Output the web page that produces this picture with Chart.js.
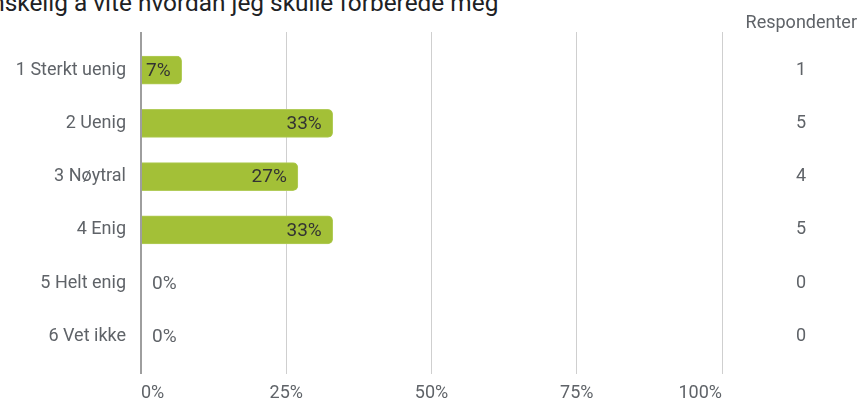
<!DOCTYPE html>
<html lang="no">
<head>
<meta charset="utf-8">
<title>Vanskelig å vite hvordan jeg skulle forberede meg</title>
<script src="https://cdn.jsdelivr.net/npm/chart.js@4.4.1/dist/chart.umd.min.js"></script>
<style>
  html, body { margin: 0; padding: 0; background: #fff; overflow: hidden; }
  .wrap { position: relative; width: 861px; height: 403px; }
  .heading {
    position: absolute; left: -37px; top: -11px; margin: 0;
    font: 400 24.4px/28px Roboto, sans-serif; color: #202124; white-space: nowrap;
  }
  canvas { position: absolute; left: 0; top: 0; }
</style>
</head>
<body>
<div class="wrap">
  <h2 class="heading">Vanskelig å vite hvordan jeg skulle forberede meg</h2>
  <canvas id="svarChart" width="861" height="403"></canvas>
</div>
<script>
// Svaralternativer, andel i prosent og antall respondenter
const kategorier = ['1 Sterkt uenig', '2 Uenig', '3 Nøytral', '4 Enig', '5 Helt enig', '6 Vet ikke'];
const andel = [7, 33, 27, 33, 0, 0];
const respondenter = [1, 5, 4, 5, 0, 0];
const prosentTicks = [0, 25, 50, 75, 100];

const gronn = '#a3c037';
const tekstGraa = '#5f6368';

// Etikett med prosent inne i stolpen, eller rett utenfor når den ikke får plass
const verdiEtiketter = {
  id: 'verdiEtiketter',
  afterDatasetsDraw(chart) {
    const ctx = chart.ctx;
    const meta = chart.getDatasetMeta(0);
    ctx.save();
    ctx.font = '19px Roboto, sans-serif';
    ctx.textBaseline = 'middle';
    meta.data.forEach((bar, i) => {
      const tekst = andel[i] + '%';
      const bredde = ctx.measureText(tekst).width;
      const lengde = bar.x - bar.base;
      if (lengde > bredde + 14) {
        ctx.fillStyle = '#333';
        ctx.textAlign = 'right';
        ctx.fillText(tekst, bar.x - 11, bar.y + 1);
      } else if (lengde > bredde + 4) {
        ctx.fillStyle = '#333';
        ctx.textAlign = 'left';
        ctx.fillText(tekst, bar.base + 5, bar.y + 1);
      } else {
        ctx.fillStyle = tekstGraa;
        ctx.textAlign = 'left';
        ctx.fillText(tekst, bar.x + 11, bar.y + 1);
      }
    });
    ctx.restore();
  }
};

// Kolonneoverskrift over antall respondenter
const kolonneTittel = {
  id: 'kolonneTittel',
  afterDraw(chart) {
    const ctx = chart.ctx;
    ctx.save();
    ctx.font = '18px Roboto, sans-serif';
    ctx.fillStyle = tekstGraa;
    ctx.textAlign = 'right';
    ctx.textBaseline = 'alphabetic';
    ctx.fillText('Respondenter', chart.width - 4, 27.5);
    ctx.restore();
  }
};

// y-aksene skal ikke skyve plotteområdet inn ovenfra og nedenfra
function fastBredde(bredde) {
  return axis => {
    axis.width = bredde;
    axis.paddingTop = 0;
    axis.paddingBottom = 0;
  };
}

const ctx = document.getElementById('svarChart').getContext('2d');
const svarChart = new Chart(ctx, {
  type: 'bar',
  data: {
    datasets: [{
      label: 'Andel',
      data: andel.map((v, i) => ({ x: v, y: i })),
      backgroundColor: gronn,
      borderColor: '#b2cc5a',
      borderWidth: 1,
      borderRadius: 5,
      barThickness: 28
    }]
  },
  plugins: [verdiEtiketter, kolonneTittel],
  options: {
    indexAxis: 'y',
    responsive: false,
    animation: false,
    layout: { padding: { left: 0, right: 5, top: 32, bottom: -9 } },
    scales: {
      x: {
        type: 'linear',
        min: 0,
        max: 100,
        afterBuildTicks: axis => { axis.ticks = prosentTicks.map(v => ({ value: v })); },
        border: { display: false },
        grid: {
          drawTicks: false,
          lineWidth: c => (c.tick && c.tick.value === 0 ? 2 : 1),
          color: c => (c.tick && c.tick.value === 0 ? '#9e9e9e' : '#cfcfcf')
        },
        ticks: {
          align: 'inner',
          padding: 8,
          color: tekstGraa,
          font: { family: 'Roboto', size: 18 },
          callback: v => v + '%'
        }
      },
      y: {
        type: 'linear',
        offset: false,
        bounds: 'data',
        reverse: true,
        min: -0.717,
        max: 5.717,
        afterBuildTicks: axis => { axis.ticks = kategorier.map((k, i) => ({ value: i })); },
        afterFit: fastBredde(141),
        border: { display: false },
        grid: { display: false, drawTicks: false, offset: false },
        ticks: {
          padding: 15,
          color: tekstGraa,
          font: { family: 'Roboto', size: 18 },
          callback: v => kategorier[v]
        }
      },
      antall: {
        type: 'linear',
        position: 'right',
        offset: false,
        bounds: 'data',
        reverse: true,
        min: -0.717,
        max: 5.717,
        afterBuildTicks: axis => { axis.ticks = respondenter.map((n, i) => ({ value: i })); },
        afterFit: fastBredde(134),
        border: { display: false },
        grid: { display: false, drawTicks: false },
        ticks: {
          padding: 74,
          color: tekstGraa,
          font: { family: 'Roboto', size: 18 },
          callback: v => respondenter[v]
        }
      }
    },
    plugins: {
      legend: { display: false },
      tooltip: { enabled: false },
      title: { display: false }
    }
  }
});
</script>
</body>
</html>
